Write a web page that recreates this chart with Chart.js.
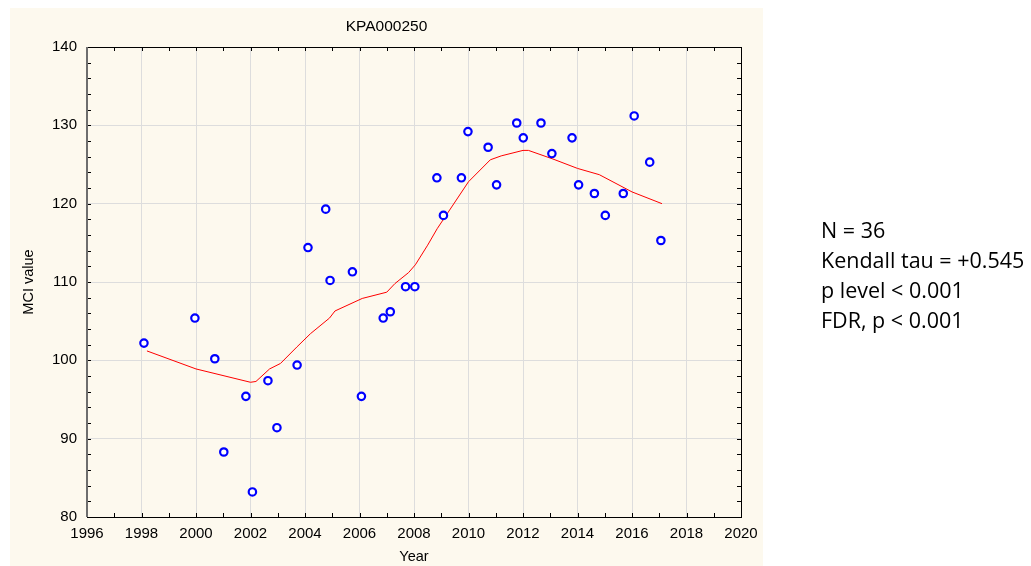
<!DOCTYPE html>
<html>
<head>
<meta charset="utf-8">
<script src="https://cdn.jsdelivr.net/npm/chart.js@4.4.1/dist/chart.umd.min.js"></script>
<style>
  html, body { margin: 0; padding: 0; background: #fff; }
  canvas { display: block; }
</style>
</head>
<body>
<canvas id="chart" width="1031" height="566"></canvas>
<script>
// Sample dates (decimal year) and MCI values
const years = [1998.09, 1999.96, 2000.69, 2001.02, 2001.83, 2002.07, 2002.64, 2002.97, 2003.71,
  2004.11, 2004.76, 2004.92, 2005.74, 2006.07, 2006.87, 2007.13, 2007.69, 2008.03,
  2008.84, 2009.08, 2009.74, 2009.98, 2010.72, 2011.03, 2011.77, 2012.01, 2012.66,
  2013.06, 2013.80, 2014.04, 2014.62, 2015.02, 2015.68, 2016.08, 2016.65, 2017.06];
const mciValues = [102.2, 105.4, 100.2, 88.3, 95.4, 83.2, 97.4, 91.4, 99.4,
  114.4, 119.3, 110.2, 111.3, 95.4, 105.4, 106.2, 109.4, 109.4,
  123.3, 118.5, 123.3, 129.2, 127.2, 122.4, 130.3, 128.4, 130.3,
  126.4, 128.4, 122.4, 121.3, 118.5, 121.3, 131.2, 125.3, 115.3];

// Smoothed trend (red line)
const trendYears = [1998.2, 2000.0, 2002.0, 2002.2, 2002.7, 2003.1, 2003.7, 2004.2, 2004.9, 2005.1,
  2006.1, 2007.0, 2007.3, 2007.8, 2008.05, 2008.5, 2008.85, 2010.0, 2010.8, 2011.2,
  2012.0, 2012.2, 2013.1, 2014.0, 2014.8, 2016.0, 2017.1];
const trendValues = [101.2, 98.9, 97.2, 97.3, 98.9, 99.6, 101.7, 103.4, 105.4, 106.3,
  107.9, 108.7, 109.8, 111.2, 112.2, 114.7, 116.8, 122.8, 125.6, 126.1,
  126.8, 126.8, 125.7, 124.5, 123.7, 121.5, 120.0];

const xTicks = [1996, 2020];   // min, max
const yTicks = [80, 140];
const chartTitle = "KPA000250";
const statsLines = ["N = 36", "Kendall tau = +0.545", "p level < 0.001", "FDR, p < 0.001"];

const points = years.map((y, i) => ({ x: y, y: mciValues[i] }));
const trend = trendYears.map((y, i) => ({ x: y, y: trendValues[i] }));

// Cream panel, frame with inward ticks, title and stats text
const decorations = {
  id: "decorations",
  beforeDraw(chart) {
    const ctx = chart.ctx;
    ctx.save();
    ctx.fillStyle = "#fdf9ee";
    ctx.fillRect(10, 8, 753, 558);
    ctx.restore();
  },
  afterDraw(chart) {
    const { ctx, chartArea: a, scales } = chart;
    const xs = scales.x, ys = scales.y;
    ctx.save();
    ctx.strokeStyle = "#000";
    ctx.lineWidth = 1;
    ctx.beginPath();
    for (let v = xTicks[0]; v <= xTicks[1]; v++) {
      const px = Math.round(xs.getPixelForValue(v)) + 0.5;
      ctx.moveTo(px, a.bottom); ctx.lineTo(px, a.bottom - 4);
      ctx.moveTo(px, a.top); ctx.lineTo(px, a.top + 4);
    }
    for (let v = yTicks[0]; v <= yTicks[1]; v += 2) {
      const py = Math.round(ys.getPixelForValue(v)) + 0.5;
      ctx.moveTo(a.left, py); ctx.lineTo(a.left + 4, py);
      ctx.moveTo(a.right, py); ctx.lineTo(a.right - 4, py);
    }
    ctx.stroke();
    ctx.strokeRect(Math.round(a.left) + 0.5, Math.round(a.top) + 0.5,
      Math.round(a.right - a.left), Math.round(a.bottom - a.top));
    ctx.strokeStyle = "#6e6e6e";
    ctx.lineWidth = 2;
    ctx.beginPath();
    ctx.moveTo(Math.round(a.left), a.top); ctx.lineTo(Math.round(a.left), a.bottom);
    ctx.stroke();

    ctx.fillStyle = "#000";
    ctx.font = '15.5px "Liberation Sans", Arial, sans-serif';
    ctx.textAlign = "center";
    ctx.textBaseline = "middle";
    ctx.fillText(chartTitle, 386.5, 27);

    ctx.font = '21.5px "Open Sans", sans-serif';
    ctx.textAlign = "left";
    ctx.textBaseline = "alphabetic";
    statsLines.forEach((t, i) => ctx.fillText(t, 821, 238 + i * 30));
    ctx.restore();
  }
};

new Chart(document.getElementById("chart"), {
  type: "scatter",
  data: {
    datasets: [
      {
        label: "MCI",
        data: points,
        pointStyle: "circle",
        pointRadius: 3.7,
        pointBorderWidth: 2.2,
        borderColor: "#0000ff",
        backgroundColor: "#ffffff",
        order: 0
      },
      {
        label: "Trend",
        data: trend,
        showLine: true,
        pointRadius: 0,
        borderColor: "#ff0000",
        borderWidth: 1,
        tension: 0,
        order: 1
      }
    ]
  },
  options: {
    responsive: false,
    animation: false,
    devicePixelRatio: 1,
    layout: { padding: { left: 10, right: 290, top: 47, bottom: 0 } },
    plugins: {
      legend: { display: false },
      tooltip: { enabled: false },
      title: { display: false }
    },
    scales: {
      x: {
        type: "linear",
        min: xTicks[0],
        max: xTicks[1],
        border: { display: false },
        grid: { color: "#dddddd", drawTicks: false },
        ticks: {
          stepSize: 2,
          padding: 8,
          color: "#000",
          font: { family: '"Liberation Sans", Arial, sans-serif', size: 15 },
          callback: v => String(v)
        },
        title: {
          display: true,
          text: "Year",
          color: "#000",
          font: { family: '"Liberation Sans", Arial, sans-serif', size: 14.5 },
          padding: 0
        },
        afterFit(scale) { scale.height = 49; }
      },
      y: {
        min: yTicks[0],
        max: yTicks[1],
        border: { display: false },
        grid: { color: "#dddddd", drawTicks: false },
        ticks: {
          stepSize: 10,
          padding: 10,
          color: "#000",
          font: { family: '"Liberation Sans", Arial, sans-serif', size: 15 }
        },
        title: {
          display: true,
          text: "MCI value",
          color: "#000",
          font: { family: '"Liberation Sans", Arial, sans-serif', size: 14.5 },
          padding: { top: 10, bottom: 0 }
        },
        afterFit(scale) { scale.width = 77; }
      }
    }
  },
  plugins: [decorations]
});
</script>
</body>
</html>
